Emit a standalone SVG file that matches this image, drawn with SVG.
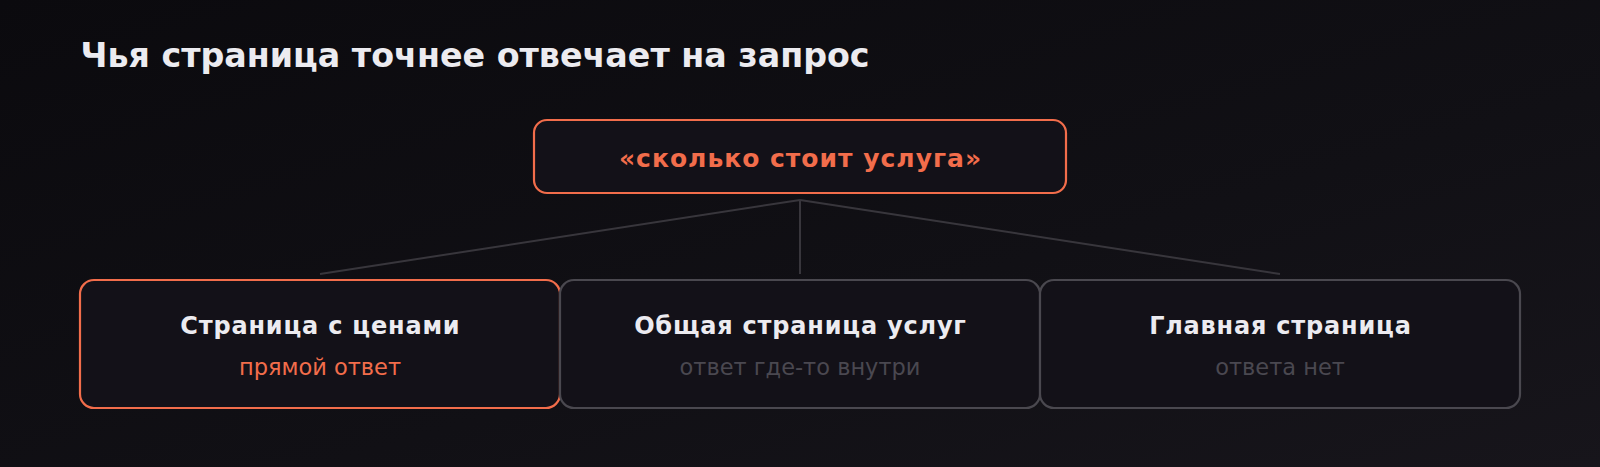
<svg xmlns="http://www.w3.org/2000/svg" width="1600" height="467" viewBox="0 0 1600 467">
  <defs>
    <linearGradient id="bg" x1="0" y1="0" x2="1" y2="1">
      <stop offset="0" stop-color="#0b0a0e"/>
      <stop offset="0.6" stop-color="#111015"/>
      <stop offset="1" stop-color="#17151b"/>
    </linearGradient>
    <style>
      .title { font-family: "DejaVu Sans", sans-serif; font-weight: bold; font-size: 33.3px; fill: #ecebf0; }
      .box { fill: #131118; stroke-width: 2.2; }
      .hl { stroke: #f26d4b; }
      .dim { stroke: #4a484f; }
      .head { font-family: "DejaVu Sans", sans-serif; font-weight: bold; font-size: 24px; letter-spacing: 0.8px; fill: #ecebf0; text-anchor: middle; }
      .query { font-family: "DejaVu Sans", sans-serif; font-weight: bold; font-size: 25px; letter-spacing: 1px; fill: #f26d4b; text-anchor: middle; }
      .sub { font-family: "DejaVu Sans", sans-serif; font-size: 22.5px; text-anchor: middle; }
      .sub-hl { fill: #f26d4b; }
      .sub-dim { fill: #4a4850; }
      .conn { stroke: #38363c; stroke-width: 2; fill: none; }
    </style>
  </defs>
  <rect width="1600" height="467" fill="url(#bg)"/>
  <text class="title" x="80.5" y="67">Чья страница точнее отвечает на запрос</text>

  <g id="connectors">
    <line class="conn" x1="800" y1="200" x2="320" y2="274"/>
    <line class="conn" x1="800" y1="200" x2="800" y2="274"/>
    <line class="conn" x1="800" y1="200" x2="1280" y2="274"/>
  </g>

  <g id="query">
    <rect class="box hl" x="534" y="120" width="532" height="73" rx="13"/>
    <text class="query" x="800.5" y="166.5">«сколько стоит услуга»</text>
  </g>

  <g id="prices">
    <rect class="box hl" x="80" y="280" width="480" height="128" rx="14"/>
    <text class="head" x="320.4" y="333.5">Страница с ценами</text>
    <text class="sub sub-hl" x="320" y="375">прямой ответ</text>
  </g>

  <g id="services">
    <rect class="box dim" x="560" y="280" width="480" height="128" rx="14"/>
    <text class="head" x="800.4" y="333.5">Общая страница услуг</text>
    <text class="sub sub-dim" x="800" y="375">ответ где-то внутри</text>
  </g>

  <g id="home">
    <rect class="box dim" x="1040" y="280" width="480" height="128" rx="14"/>
    <text class="head" x="1280.4" y="333.5">Главная страница</text>
    <text class="sub sub-dim" x="1280" y="375">ответа нет</text>
  </g>
</svg>
